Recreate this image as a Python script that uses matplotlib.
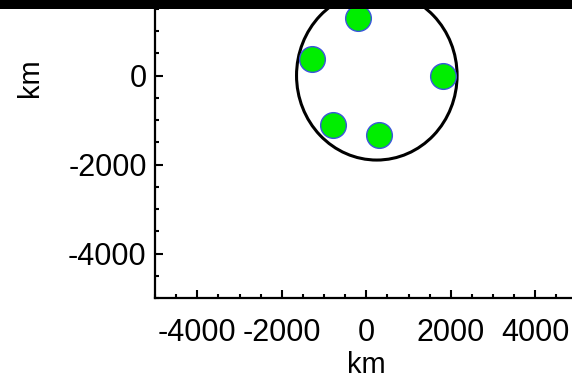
import matplotlib
matplotlib.use("Agg")
import matplotlib.pyplot as plt
from matplotlib.patches import Circle, Rectangle
from matplotlib.ticker import MultipleLocator

plt.rcParams["font.family"] = ["Liberation Sans", "DejaVu Sans"]
plt.rcParams["axes.unicode_minus"] = False

# Satellite positions (km) and the enclosing ring
sat_x = [-190, -1280, 1820, -780, 310]
sat_y = [1300, 380, -20, -1120, -1330]
ring_center = (250, 0)
ring_radius = 1900

x_ticks = [-4000, -2000, 0, 2000, 4000]
y_ticks = [-4000, -2000, 0]
x_limits = (-5000, 5000)
y_limits = (-5000, 5000)

W, H, DPI = 572, 378, 100
fig = plt.figure(figsize=(W / DPI, H / DPI), dpi=DPI)
ax = fig.add_axes([155 / W, 80 / H, 422.5 / W, 445 / H])

ax.add_patch(Circle(ring_center, ring_radius, fill=False, edgecolor="black",
                    linewidth=2.2, zorder=2))
ax.scatter(sat_x, sat_y, s=18.5 ** 2, color="#00ee00", edgecolors="#3a55dd",
           linewidths=1.0, zorder=3)

ax.set_xlim(*x_limits)
ax.set_ylim(*y_limits)
ax.set_xticks(x_ticks)
ax.set_yticks(y_ticks)
ax.set_xticklabels([str(v) for v in x_ticks])
ax.set_yticklabels([str(v) for v in y_ticks])
ax.xaxis.set_minor_locator(MultipleLocator(500))
ax.yaxis.set_minor_locator(MultipleLocator(500))
ax.tick_params(which="both", direction="in", width=1.5, colors="black",
               labelsize=22)
ax.tick_params(which="major", length=6)
ax.tick_params(which="minor", length=3)
ax.tick_params(axis="x", which="major", pad=14.5)
ax.tick_params(axis="y", which="major", pad=6)

for side in ("top", "right"):
    ax.spines[side].set_visible(False)
for side in ("left", "bottom"):
    ax.spines[side].set_linewidth(1.6)

ax.set_xlabel("km", fontsize=21)
ax.set_ylabel("km", fontsize=21)
ax.xaxis.set_label_coords(0.5, -0.12)
ax.yaxis.set_label_coords(-0.262, 0.494)

# dark strip along the top edge
fig.add_artist(Rectangle((0, 1 - 9 / H), 1, 9 / H, transform=fig.transFigure,
                         facecolor="black", edgecolor="none", zorder=10))

fig.savefig("out.png", dpi=DPI)
